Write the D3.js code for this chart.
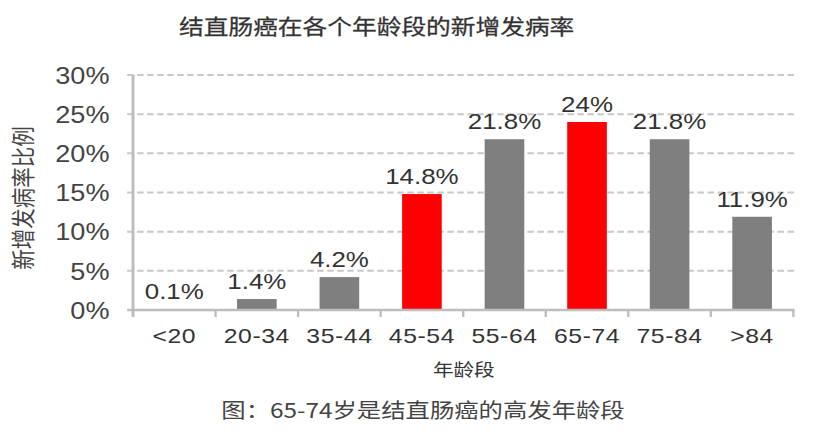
<!DOCTYPE html>
<html>
<head>
<meta charset="utf-8">
<script src="https://cdn.jsdelivr.net/npm/d3@7"></script>
<style>
  html, body { margin: 0; padding: 0; background: #fff; }
  #chart { width: 824px; height: 434px; }
</style>
</head>
<body>
<div id="chart"></div>
<script>
// data
const categories = ["<20", "20-34", "35-44", "45-54", "55-64", "65-74", "75-84", ">84"];
const rates = [0.1, 1.4, 4.2, 14.8, 21.8, 24, 21.8, 11.9];
const valueLabels = ["0.1%", "1.4%", "4.2%", "14.8%", "21.8%", "24%", "21.8%", "11.9%"];
const highlighted = ["45-54", "65-74"];
const yTicks = [0, 5, 10, 15, 20, 25, 30];

const title = "结直肠癌在各个年龄段的新增发病率";
const yTitle = "新增发病率比例";
const xTitle = "年龄段";
const caption = "图：65-74岁是结直肠癌的高发年龄段";

// the picture is a bit stretched sideways, so draw in a narrower box and stretch it
const W = 700, H = 434;
const margin = { top: 75, left: 113, right: 26, bottom: 124 };
const width = W - margin.left - margin.right;
const height = H - margin.top - margin.bottom;

const latin = "'Liberation Sans', Arial, sans-serif";
const cjk = "'Noto Sans CJK SC', 'Noto Sans', sans-serif";

const svg = d3.select("#chart")
  .append("svg")
  .attr("width", 824)
  .attr("height", 434)
  .attr("viewBox", `0 0 ${W} ${H}`)
  .attr("preserveAspectRatio", "none");

// Title
svg.append("text")
  .attr("x", 320)
  .attr("y", 34)
  .attr("text-anchor", "middle")
  .attr("font-family", cjk)
  .attr("font-size", "21px")
  .attr("fill", "#333")
  .attr("stroke", "#333")
  .attr("stroke-width", 0.25)
  .text(title);

const g = svg.append("g")
  .attr("transform", `translate(${margin.left},${margin.top})`);

const x = d3.scaleBand()
  .domain(categories)
  .range([0, width])
  .paddingInner(0.52)
  .paddingOuter(0.26);

const y = d3.scaleLinear()
  .domain([0, 30])
  .range([height, 0]);

// dashed gridlines
g.selectAll(".grid")
  .data(yTicks.slice(1))
  .join("line")
  .attr("class", "grid")
  .attr("x1", -5)
  .attr("x2", width + 1)
  .attr("y1", d => y(d))
  .attr("y2", d => y(d))
  .attr("stroke", "#c8c8c8")
  .attr("stroke-width", 2)
  .attr("stroke-dasharray", "5.5,3");

// y axis labels
const yAxis = d3.axisLeft(y)
  .tickValues(yTicks)
  .tickFormat(d => d + "%")
  .tickSize(0)
  .tickPadding(20);

g.append("g")
  .call(yAxis)
  .call(a => a.select(".domain").remove())
  .selectAll(".tick text")
  .attr("font-family", latin)
  .attr("font-size", "23px")
  .attr("fill", "#444")
  .attr("dy", "0.36em");

// bars
g.selectAll(".bar")
  .data(rates)
  .join("rect")
  .attr("class", "bar")
  .attr("x", (d, i) => x(categories[i]))
  .attr("y", d => y(d))
  .attr("width", x.bandwidth())
  .attr("height", d => height - y(d))
  .attr("fill", (d, i) => highlighted.includes(categories[i]) ? "#ff0000" : "#7f7f7f");

// value labels
g.selectAll(".val")
  .data(rates)
  .join("text")
  .attr("class", "val")
  .attr("x", (d, i) => x(categories[i]) + x.bandwidth() / 2)
  .attr("y", d => y(d) - 10)
  .attr("text-anchor", "middle")
  .attr("font-family", latin)
  .attr("font-size", "22px")
  .attr("fill", "#333")
  .text((d, i) => valueLabels[i]);

// axes lines
g.append("line")
  .attr("x1", 0).attr("x2", 0)
  .attr("y1", 0).attr("y2", height + 7)
  .attr("stroke", "#bdbdbd")
  .attr("stroke-width", 2.5);

g.append("line")
  .attr("x1", -5).attr("x2", width + 1)
  .attr("y1", height).attr("y2", height)
  .attr("stroke", "#bdbdbd")
  .attr("stroke-width", 2.5);

// tick marks at band edges
const edges = categories.map(c => x(c) - x.step() * x.paddingInner() / 2).concat([width]);
g.selectAll(".xtick")
  .data(edges.slice(1))
  .join("line")
  .attr("class", "xtick")
  .attr("x1", d => d).attr("x2", d => d)
  .attr("y1", height).attr("y2", height + 7)
  .attr("stroke", "#bdbdbd")
  .attr("stroke-width", 2);

// x labels
const xAxis = d3.axisBottom(x).tickSize(0).tickPadding(18);
g.append("g")
  .attr("transform", `translate(0,${height})`)
  .call(xAxis)
  .call(a => a.select(".domain").remove())
  .selectAll(".tick text")
  .attr("font-family", latin)
  .attr("font-size", "21px")
  .attr("letter-spacing", "0.5px")
  .attr("fill", "#333");

// x title
svg.append("text")
  .attr("x", 394)
  .attr("y", 376)
  .attr("text-anchor", "middle")
  .attr("font-family", cjk)
  .attr("font-size", "17.5px")
  .attr("fill", "#333")
  .text(xTitle);

// y title
svg.append("text")
  .attr("transform", `translate(27,198) rotate(-90)`)
  .attr("text-anchor", "middle")
  .attr("font-family", cjk)
  .attr("font-size", "20.5px")
  .attr("fill", "#444")
  .text(yTitle);

// caption
svg.append("text")
  .attr("x", 188)
  .attr("y", 418)
  .attr("font-family", cjk)
  .attr("font-size", "20.7px")
  .attr("fill", "#444")
  .text(caption);
</script>
</body>
</html>
